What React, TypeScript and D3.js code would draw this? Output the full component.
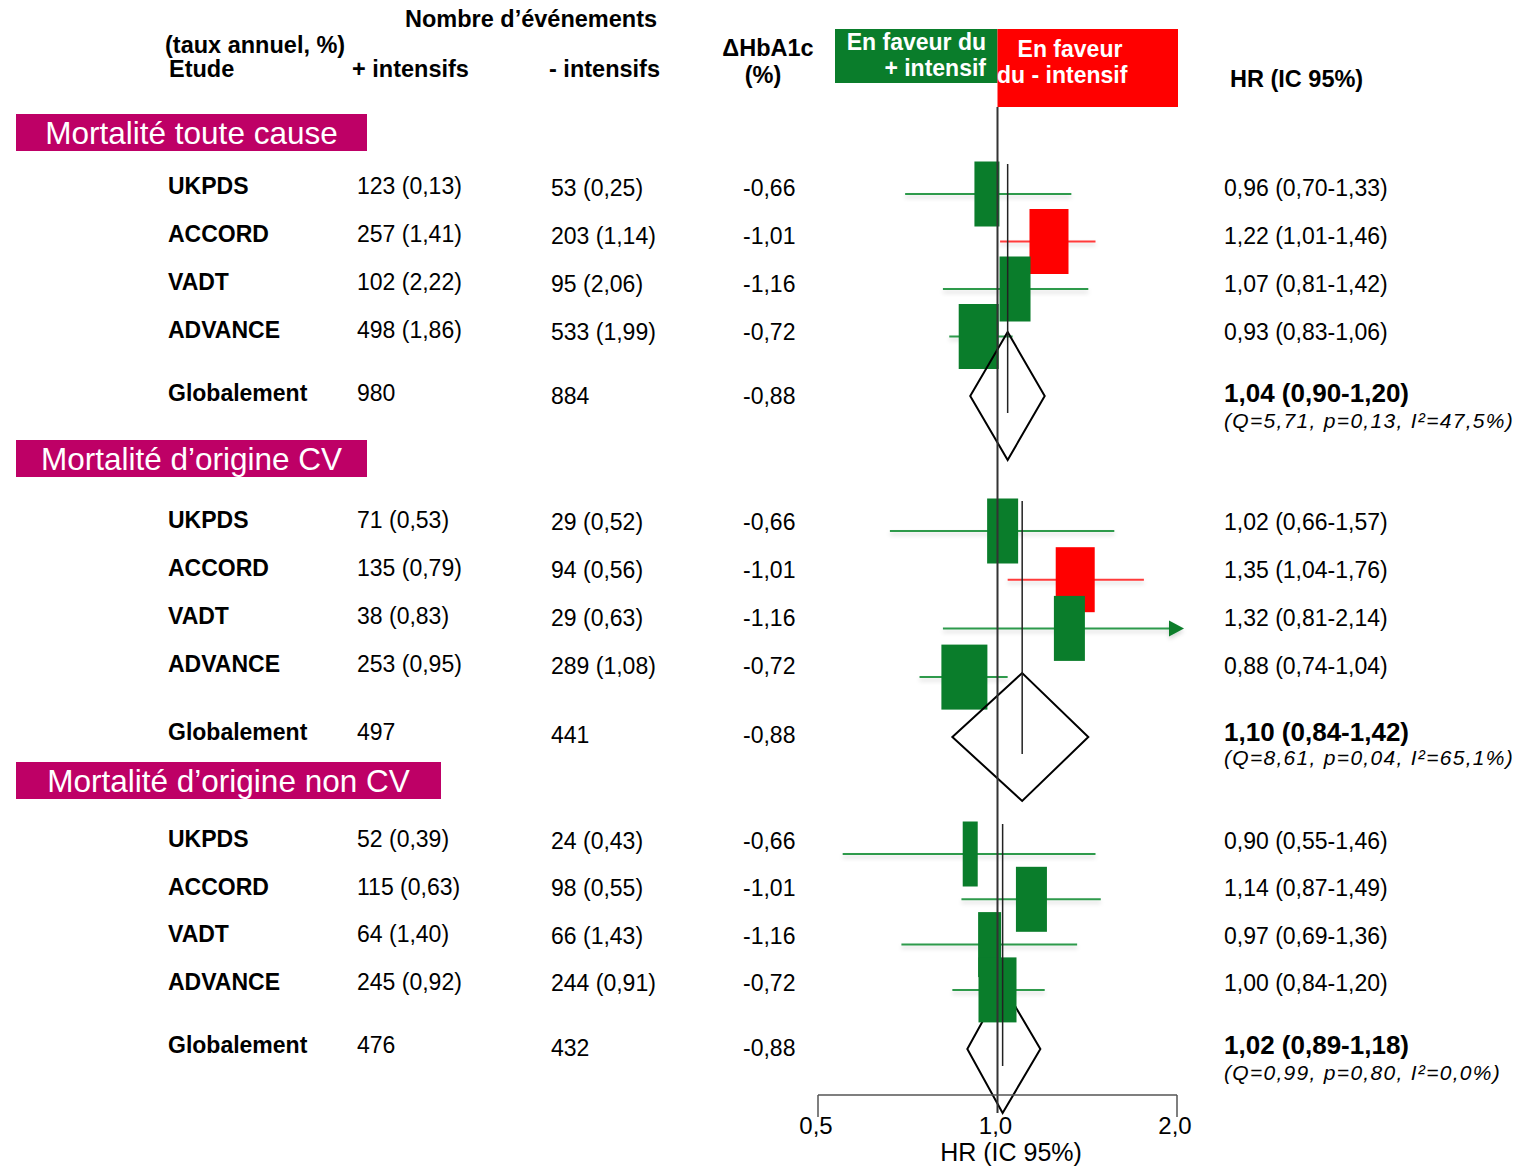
import React from "react";
import * as d3 from "d3";

// ---------- DATA ----------
const sections = ["Mortalité toute cause", "Mortalité d’origine CV", "Mortalité d’origine non CV"];
const etudes = ["UKPDS", "ACCORD", "VADT", "ADVANCE"];
const evtPlus = [[123, 257, 102, 498], [71, 135, 38, 253], [52, 115, 64, 245]];
const tauxPlus = [[0.13, 1.41, 2.22, 1.86], [0.53, 0.79, 0.83, 0.95], [0.39, 0.63, 1.40, 0.92]];
const evtMoins = [[53, 203, 95, 533], [29, 94, 29, 289], [24, 98, 66, 244]];
const tauxMoins = [[0.25, 1.14, 2.06, 1.99], [0.52, 0.56, 0.63, 1.08], [0.43, 0.55, 1.43, 0.91]];
const totalPlus = [980, 497, 476];
const totalMoins = [884, 441, 432];
const deltaHbA1c = [-0.66, -1.01, -1.16, -0.72];
const deltaGlobal = -0.88;
const hr = [[0.96, 1.22, 1.07, 0.93], [1.02, 1.35, 1.32, 0.88], [0.90, 1.14, 0.97, 1.00]];
const hrBas = [[0.70, 1.01, 0.81, 0.83], [0.66, 1.04, 0.81, 0.74], [0.55, 0.87, 0.69, 0.84]];
const hrHaut = [[1.33, 1.46, 1.42, 1.06], [1.57, 1.76, 2.14, 1.04], [1.46, 1.49, 1.36, 1.20]];
const poids = [[25, 39, 31, 40], [31, 39, 31, 46], [15, 31, 23, 38]];
const hrGlobal = [1.04, 1.10, 1.02];
const hrGlobalBas = [0.90, 0.84, 0.89];
const hrGlobalHaut = [1.20, 1.42, 1.18];
const statQ = [5.71, 8.61, 0.99];
const statP = [0.13, 0.04, 0.80];
const statI2 = [47.5, 65.1, 0.0];
const axisTicks = [0.5, 1.0, 2.0];

// ---------- LAYOUT / STYLE ----------
const W = 1519, H = 1167;
const FONT = "'Liberation Sans', Arial, sans-serif";
const GREEN = "#0A7D2B";
const GREEN_LINE = "#2E9A4C";
const RED = "#FF0000";
const RED_LINE = "#FF3B3B";
const MAGENTA = "#BE0066";

const secHeaderY = [114, 440, 762];
const secHeaderW = [351, 351, 425];
const textRow0 = [186, 520, 839];
const textStep = [48, 48, 47.5];
const textGlobal = [394, 733, 1046];
const plotRow0 = [194, 531, 854];
const plotStep = [47.5, 48.7, 45.3];
const diamondY = [396, 737, 1049];
const statY = [421, 758, 1073];
const diamondOnTop = [true, true, false];

const BOX_H = 65;
const DIAM_H = 64;

const fr = d3.formatLocale({ decimal: ",", thousands: " ", grouping: [3], currency: ["", " €"], minus: "-" });
const f2 = fr.format(".2f");
const f1 = fr.format(".1f");

const x = d3.scaleLog().domain([0.5, 2]).range([818, 1177]);
const boxW = d3.scaleLinear().domain([0, 100]).range([0, 100]);

export default function App() {
  const colName = 168, colPlus = 357, colMoins = 551, colHb = 743, colHR = 1224;

  return (
    <svg width={W} height={H} style={{ position: "absolute", left: 0, top: 0, background: "#fff" }} fontFamily={FONT}>
      <defs>
        <filter id="shadow" filterUnits="userSpaceOnUse" x={0} y={0} width={W} height={H}>
          <feDropShadow dx="0" dy="3" stdDeviation="2" floodColor="#000" floodOpacity="0.16" />
        </filter>
      </defs>

      {/* Header */}
      <g fontWeight="bold" fontSize={23.5} fill="#000">
        <text x={405} y={27}>Nombre d’événements</text>
        <text x={165} y={53}>(taux annuel, %)</text>
        <text x={169} y={77}>Etude</text>
        <text x={352} y={77}>+ intensifs</text>
        <text x={549} y={77}>- intensifs</text>
        <text x={768} y={56} textAnchor="middle">ΔHbA1c</text>
        <text x={763} y={83} textAnchor="middle">(%)</text>
        <text x={1230} y={87}>HR (IC 95%)</text>
      </g>
      <rect x={835} y={29} width={x(1) - 835} height={54} fill={GREEN} />
      <rect x={x(1)} y={29} width={1178 - x(1)} height={78} fill={RED} />
      <g fontWeight="bold" fontSize={23} fill="#fff">
        <text x={986} y={50} textAnchor="end">En faveur du</text>
        <text x={986} y={76} textAnchor="end">+ intensif</text>
        <text x={1070} y={57} textAnchor="middle">En faveur</text>
        <text x={997} y={83}>du - intensif</text>
      </g>

      {sections.map((name, s) => {
        const yText = (i: number) => textRow0[s] + textStep[s] * i;
        const yPlot = (i: number) => plotRow0[s] + plotStep[s] * i;
        const hx = x(hrGlobal[s]);
        const dy = diamondY[s];
        const diamond = (
          <path
            d={`M${x(hrGlobalBas[s])},${dy} L${hx},${dy - DIAM_H} L${x(hrGlobalHaut[s])},${dy} L${hx},${dy + DIAM_H} Z`}
            fill="none" stroke="#000" strokeWidth={2} />
        );
        const boxes = etudes.map((e, i) => {
          const bw = boxW(poids[s][i]);
          const col = hrBas[s][i] > 1 ? RED : GREEN;
          return <rect key={e} x={x(hr[s][i]) - bw / 2} y={yPlot(i) - BOX_H / 2} width={bw} height={BOX_H} fill={col} />;
        });
        return (
          <g key={name}>
            <rect x={16} y={secHeaderY[s]} width={secHeaderW[s]} height={37} fill={MAGENTA} />
            <text x={16 + secHeaderW[s] / 2} y={secHeaderY[s] + 19} dy="0.35em" textAnchor="middle" fontSize={31.5} fill="#fff">{name}</text>

            {etudes.map((e, i) => (
              <g key={e} fontSize={23} fill="#000">
                <text x={colName} y={yText(i)} dy="0.35em" fontWeight="bold">{e}</text>
                <text x={colPlus} y={yText(i)} dy="0.35em">{`${evtPlus[s][i]} (${f2(tauxPlus[s][i])})`}</text>
                <text x={colMoins} y={yText(i) + 1.5} dy="0.35em">{`${evtMoins[s][i]} (${f2(tauxMoins[s][i])})`}</text>
                <text x={colHb} y={yText(i) + 1.5} dy="0.35em">{f2(deltaHbA1c[i])}</text>
                <text x={colHR} y={yText(i) + 1.5} dy="0.35em">{`${f2(hr[s][i])} (${f2(hrBas[s][i])}-${f2(hrHaut[s][i])})`}</text>
              </g>
            ))}
            <g fontSize={23} fill="#000">
              <text x={colName} y={textGlobal[s] - 1} dy="0.35em" fontWeight="bold">Globalement</text>
              <text x={colPlus} y={textGlobal[s] - 1} dy="0.35em">{totalPlus[s]}</text>
              <text x={colMoins} y={textGlobal[s] + 2} dy="0.35em">{totalMoins[s]}</text>
              <text x={colHb} y={textGlobal[s] + 2} dy="0.35em">{f2(deltaGlobal)}</text>
              <text x={colHR} y={textGlobal[s] - 1} dy="0.35em" fontWeight="bold" fontSize={26}>{`${f2(hrGlobal[s])} (${f2(hrGlobalBas[s])}-${f2(hrGlobalHaut[s])})`}</text>
              <text x={colHR} y={statY[s]} dy="0.35em" fontStyle="italic" fontSize={21} letterSpacing={1.3}>{`(Q=${f2(statQ[s])}, p=${f2(statP[s])}, I²=${f1(statI2[s])}%)`}</text>
            </g>

            {/* CI lines */}
            {etudes.map((e, i) => {
              const over = hrHaut[s][i] > x.domain()[1];
              const col = hrBas[s][i] > 1 ? RED_LINE : GREEN_LINE;
              const xr = over ? x(x.domain()[1]) - 8 : x(hrHaut[s][i]);
              const yy = yPlot(i);
              return (
                <g key={e} filter="url(#shadow)">
                  <line x1={x(hrBas[s][i])} x2={xr} y1={yy} y2={yy} stroke={col} strokeWidth={2} />
                  {over && <path d={`M${xr},${yy - 8} L${xr + 15},${yy} L${xr},${yy + 8} Z`} fill={GREEN} />}
                </g>
              );
            })}
            {!diamondOnTop[s] && diamond}
            {boxes}
            {diamondOnTop[s] && diamond}
            <line x1={hx} x2={hx} y1={yPlot(0) - 30} y2={dy + 17} stroke="#222" strokeWidth={1.5} />
          </g>
        );
      })}

      {/* reference line at HR = 1 */}
      <line x1={x(1)} x2={x(1)} y1={107} y2={1113} stroke="#333" strokeWidth={2} />

      {/* Axis */}
      <g stroke="#555" strokeWidth={1.5}>
        <line x1={x(0.5)} x2={x(2)} y1={1095} y2={1095} />
        {axisTicks.filter(t => t !== 1).map(t => (
          <line key={t} x1={x(t)} x2={x(t)} y1={1095} y2={1117} />
        ))}
      </g>
      <g fontSize={24} fill="#000" textAnchor="middle">
        {axisTicks.map(t => (
          <text key={t} x={x(t) - 2} y={1134}>{f1(t)}</text>
        ))}
        <text x={1011} y={1161} fontSize={25}>HR (IC 95%)</text>
      </g>
    </svg>
  );
}
